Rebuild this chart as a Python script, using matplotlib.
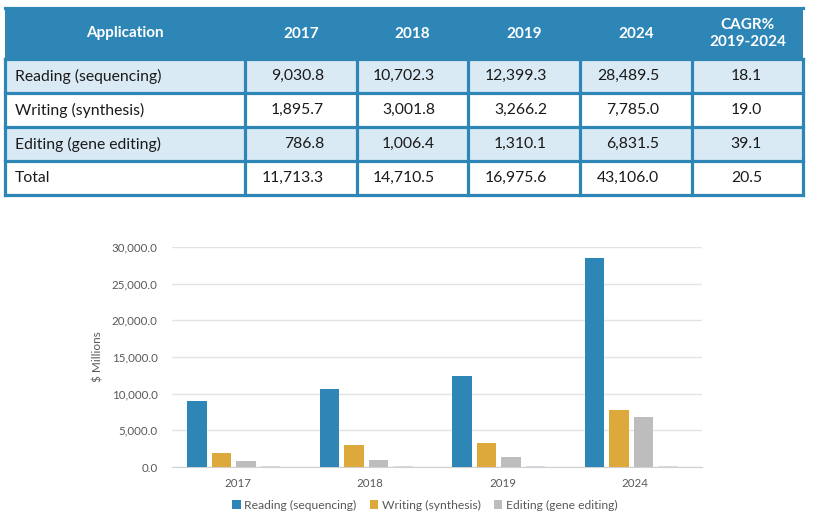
import matplotlib.pyplot as plt
import numpy as np
from matplotlib.patches import Rectangle

plt.rcParams['font.family'] = ['Lato', 'DejaVu Sans']

apps = ['Reading (sequencing)', 'Writing (synthesis)', 'Editing (gene editing)']
years = ['2017', '2018', '2019', '2024']
reading = [9030.8, 10702.3, 12399.3, 28489.5]
writing = [1895.7, 3001.8, 3266.2, 7785.0]
editing = [786.8, 1006.4, 1310.1, 6831.5]
total = [11713.3, 14710.5, 16975.6, 43106.0]
cagr = [18.1, 19.0, 39.1, 20.5]
hidden = [150, 150, 150, 150]   # faint empty fourth series next to each group

blue = '#2E86B7'
yellow = '#DDA93B'
grey = '#BDBDBD'
light = '#DAEAF5'

fig = plt.figure(figsize=(8.13, 5.21), dpi=100)

# ---- table drawn in pixel coords
tab = fig.add_axes([0, 0, 1, 1])
tab.set_xlim(0, 813)
tab.set_ylim(521, 0)
tab.axis('off')

cols = [5, 245, 357, 468, 580, 692, 803]
rows = [8, 59, 93, 127, 161, 195]

tab.add_patch(Rectangle((cols[0], rows[0]), cols[-1] - cols[0], rows[1] - rows[0],
                        facecolor=blue, edgecolor='none'))
body = [[a] + [f'{v:,.1f}' for v in vals] + [f'{c:.1f}']
        for a, vals, c in zip(apps + ['Total'], [reading, writing, editing, total], cagr)]
for r, line in enumerate(body):
    y0, y1 = rows[r + 1], rows[r + 2]
    fc = light if r % 2 == 0 else 'white'
    tab.add_patch(Rectangle((cols[0], y0), cols[-1] - cols[0], y1 - y0, facecolor=fc, edgecolor='none'))
    ym = (y0 + y1) / 2
    tab.text(cols[0] + 10, ym, line[0], ha='left', va='center', fontsize=11.3, color='#1a1a1a')
    for c in range(1, 6):
        pad = 41 if c == 5 else 33
        tab.text(cols[c + 1] - pad, ym, line[c], ha='right', va='center', fontsize=11.3, color='#1a1a1a')

# header texts
hm = (rows[0] + rows[1]) / 2
headers = ['Application'] + years + ['CAGR%\n2019-2024']
for c, h in enumerate(headers):
    tab.text((cols[c] + cols[c + 1]) / 2, hm, h, ha='center', va='center', fontsize=11,
             fontweight='bold', color='white', linespacing=1.3)

# grid lines of table
for y in rows[1:]:
    tab.plot([cols[0], cols[-1]], [y, y], color=blue, lw=2.3)
for x in cols:
    tab.plot([x, x], [rows[1], rows[-1]], color=blue, lw=2.3)
tab.plot([cols[0], cols[-1]], [rows[0], rows[0]], color=blue, lw=2.3)

# ---- bar chart
ax = fig.add_axes([171.5 / 813, (521 - 467) / 521, 530 / 813, 220 / 521])
x = np.arange(len(years))
w = 0.147
step = 0.184
series = [(reading, blue, apps[0]), (writing, yellow, apps[1]), (editing, grey, apps[2]),
          (hidden, '#D5DCE3', None)]
for i, (vals, col, lab) in enumerate(series):
    off = (i - 1.5) * step - 0.03
    ax.bar(x + off, vals, width=w, color=col, label=lab if lab else '_nolegend_', zorder=3)

ax.set_xlim(-0.5, 3.5)
ax.set_ylim(0, 30000)
ax.set_yticks(np.arange(0, 30001, 5000))
ax.set_yticklabels([f'{v:,.1f}' for v in np.arange(0, 30001, 5000)])
ax.set_xticks(x)
ax.set_xticklabels(years)
ax.grid(axis='y', color='#E3E3E3', lw=1, zorder=0)
for s in ['top', 'right', 'left']:
    ax.spines[s].set_visible(False)
ax.spines['bottom'].set_color('#D0D0D0')
ax.tick_params(axis='both', length=0, labelsize=8.3, colors='#595959')
ax.tick_params(axis='y', pad=10)
ax.tick_params(axis='x', pad=8)
ax.set_ylabel('$ Millions', fontsize=8.5, color='#595959', labelpad=6)

ax.legend(loc='upper center', bbox_to_anchor=(0.478, -0.10), ncol=3, frameon=False,
          fontsize=8.7, labelcolor='#595959', handlelength=0.7, handleheight=0.7,
          handletextpad=0.3, columnspacing=1.1)

fig.savefig('out.png', dpi=100)
